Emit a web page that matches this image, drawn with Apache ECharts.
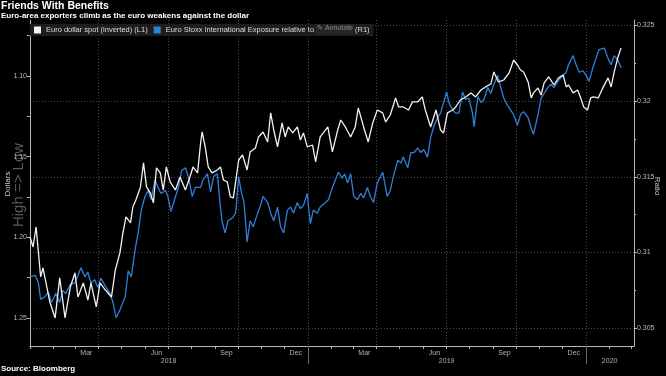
<!DOCTYPE html>
<html>
<head>
<meta charset="utf-8">
<script src="https://cdn.jsdelivr.net/npm/echarts@6/dist/echarts.min.js"></script>
<style>
  html, body { margin: 0; padding: 0; background: #000; }
  #chart { width: 666px; height: 376px; }
</style>
</head>
<body>
<div id="chart"></div>
<script>
// Euro dollar spot, plotted on an inverted left axis
const eurUsd = [
  ['2018-01-01', 1.1998], ['2018-01-05', 1.2060], ['2018-01-09', 1.1936], ['2018-01-15', 1.2246],
  ['2018-01-18', 1.2190], ['2018-01-22', 1.2283], ['2018-01-27', 1.2401], ['2018-02-03', 1.2500],
  ['2018-02-09', 1.2252], ['2018-02-16', 1.2500], ['2018-02-23', 1.2308], ['2018-03-01', 1.2221],
  ['2018-03-05', 1.2370], ['2018-03-12', 1.2283], ['2018-03-18', 1.2389], ['2018-03-22', 1.2283],
  ['2018-03-29', 1.2432], ['2018-04-03', 1.2283], ['2018-04-10', 1.2327], ['2018-04-18', 1.2370],
  ['2018-04-23', 1.2203], ['2018-04-29', 1.2097], ['2018-05-03', 1.1973], ['2018-05-07', 1.1874],
  ['2018-05-13', 1.1911], ['2018-05-16', 1.1812], ['2018-05-20', 1.1769], ['2018-05-26', 1.1688],
  ['2018-05-30', 1.1539], ['2018-06-03', 1.1688], ['2018-06-08', 1.1725], ['2018-06-12', 1.1787],
  ['2018-06-16', 1.1570], ['2018-06-21', 1.1601], ['2018-06-25', 1.1707], ['2018-06-29', 1.1564],
  ['2018-07-04', 1.1657], ['2018-07-11', 1.1707], ['2018-07-17', 1.1626], ['2018-07-24', 1.1707],
  ['2018-07-30', 1.1626], ['2018-08-03', 1.1564], ['2018-08-09', 1.1601], ['2018-08-13', 1.1415],
  ['2018-08-15', 1.1347], ['2018-08-19', 1.1440], ['2018-08-23', 1.1564], ['2018-08-28', 1.1601],
  ['2018-09-04', 1.1583], ['2018-09-08', 1.1564], ['2018-09-12', 1.1645], ['2018-09-17', 1.1657],
  ['2018-09-21', 1.1750], ['2018-09-25', 1.1756], ['2018-10-02', 1.1521], ['2018-10-07', 1.1490],
  ['2018-10-13', 1.1583], ['2018-10-17', 1.1471], ['2018-10-24', 1.1446], ['2018-10-28', 1.1378],
  ['2018-11-03', 1.1347], ['2018-11-09', 1.1409], ['2018-11-13', 1.1229], ['2018-11-17', 1.1335],
  ['2018-11-22', 1.1440], ['2018-11-28', 1.1291], ['2018-12-02', 1.1378], ['2018-12-06', 1.1316],
  ['2018-12-12', 1.1353], ['2018-12-18', 1.1316], ['2018-12-22', 1.1397], ['2018-12-26', 1.1353],
  ['2018-12-31', 1.1440], ['2019-01-07', 1.1428], ['2019-01-11', 1.1533], ['2019-01-17', 1.1378],
  ['2019-01-27', 1.1316], ['2019-02-02', 1.1471], ['2019-02-09', 1.1335], ['2019-02-13', 1.1273],
  ['2019-02-19', 1.1316], ['2019-02-26', 1.1378], ['2019-03-04', 1.1316], ['2019-03-08', 1.1198],
  ['2019-03-15', 1.1316], ['2019-03-21', 1.1409], ['2019-03-27', 1.1291], ['2019-04-02', 1.1211],
  ['2019-04-09', 1.1229], ['2019-04-13', 1.1285], ['2019-04-19', 1.1242], ['2019-04-26', 1.1136],
  ['2019-04-30', 1.1192], ['2019-05-06', 1.1192], ['2019-05-13', 1.1211], ['2019-05-18', 1.1161],
  ['2019-05-25', 1.1161], ['2019-05-31', 1.1130], ['2019-06-04', 1.1211], ['2019-06-11', 1.1316],
  ['2019-06-18', 1.1211], ['2019-06-24', 1.1335], ['2019-06-28', 1.1353], ['2019-07-03', 1.1229],
  ['2019-07-10', 1.1211], ['2019-07-14', 1.1192], ['2019-07-20', 1.1149], ['2019-07-27', 1.1130],
  ['2019-08-03', 1.1105], ['2019-08-09', 1.1130], ['2019-08-16', 1.1087], ['2019-08-22', 1.1068],
  ['2019-08-29', 1.1050], ['2019-09-02', 1.0975], ['2019-09-08', 1.1037], ['2019-09-15', 1.1025],
  ['2019-09-22', 1.0981], ['2019-09-28', 1.0901], ['2019-10-03', 1.0932], ['2019-10-07', 1.0963],
  ['2019-10-11', 1.0975], ['2019-10-17', 1.1037], ['2019-10-21', 1.1136], ['2019-10-24', 1.1105],
  ['2019-10-30', 1.1074], ['2019-11-03', 1.1118], ['2019-11-07', 1.1043], ['2019-11-13', 1.1006],
  ['2019-11-20', 1.1056], ['2019-11-26', 1.1012], ['2019-12-02', 1.0994], ['2019-12-06', 1.1068],
  ['2019-12-09', 1.1056], ['2019-12-15', 1.1105], ['2019-12-21', 1.1087], ['2019-12-25', 1.1136],
  ['2019-12-29', 1.1192], ['2020-01-03', 1.1211], ['2020-01-07', 1.1136], ['2020-01-11', 1.1130],
  ['2020-01-17', 1.1136], ['2020-01-23', 1.1074], ['2020-01-30', 1.1012], ['2020-02-03', 1.1068],
  ['2020-02-07', 1.0975], ['2020-02-12', 1.0882], ['2020-02-16', 1.0826]
];

// Euro Stoxx international exposure relative to Euro Stoxx, right axis
const stoxxRatio = [
  ['2018-01-01', 0.3084], ['2018-01-08', 0.3085], ['2018-01-12', 0.3080], ['2018-01-15', 0.3069],
  ['2018-01-21', 0.3071], ['2018-01-25', 0.3074], ['2018-01-29', 0.3067], ['2018-02-04', 0.3073],
  ['2018-02-09', 0.3067], ['2018-02-13', 0.3075], ['2018-02-17', 0.3073], ['2018-02-23', 0.3079],
  ['2018-03-01', 0.3080], ['2018-03-05', 0.3085], ['2018-03-09', 0.3090], ['2018-03-14', 0.3084],
  ['2018-03-18', 0.3087], ['2018-03-22', 0.3080], ['2018-03-27', 0.3082], ['2018-03-31', 0.3077],
  ['2018-04-04', 0.3083], ['2018-04-11', 0.3077], ['2018-04-16', 0.3073], ['2018-04-20', 0.3067],
  ['2018-04-24', 0.3057], ['2018-04-29', 0.3062], ['2018-05-06', 0.3071], ['2018-05-10', 0.3088],
  ['2018-05-14', 0.3084], ['2018-05-19', 0.3102], ['2018-05-23', 0.3113], ['2018-05-27', 0.3128],
  ['2018-06-01', 0.3137], ['2018-06-05', 0.3141], ['2018-06-09', 0.3135], ['2018-06-14', 0.3148],
  ['2018-06-18', 0.3143], ['2018-06-22', 0.3139], ['2018-06-28', 0.3141], ['2018-07-01', 0.3137],
  ['2018-07-05', 0.3127], ['2018-07-11', 0.3137], ['2018-07-15', 0.3143], ['2018-07-19', 0.3154],
  ['2018-07-24', 0.3156], ['2018-07-28', 0.3150], ['2018-08-02', 0.3137], ['2018-08-06', 0.3143],
  ['2018-08-13', 0.3143], ['2018-08-16', 0.3148], ['2018-08-22', 0.3152], ['2018-08-26', 0.3140],
  ['2018-08-30', 0.3150], ['2018-09-04', 0.3152], ['2018-09-07', 0.3135], ['2018-09-10', 0.3121],
  ['2018-09-14', 0.3113], ['2018-09-18', 0.3121], ['2018-09-24', 0.3123], ['2018-09-28', 0.3126],
  ['2018-10-02', 0.3150], ['2018-10-05', 0.3141], ['2018-10-09', 0.3133], ['2018-10-13', 0.3107],
  ['2018-10-17', 0.3121], ['2018-10-21', 0.3117], ['2018-10-27', 0.3126], ['2018-10-30', 0.3130],
  ['2018-11-03', 0.3137], ['2018-11-09', 0.3133], ['2018-11-13', 0.3126], ['2018-11-17', 0.3121],
  ['2018-11-22', 0.3130], ['2018-11-26', 0.3117], ['2018-11-30', 0.3113], ['2018-12-05', 0.3128],
  ['2018-12-09', 0.3130], ['2018-12-13', 0.3126], ['2018-12-18', 0.3133], ['2018-12-22', 0.3129],
  ['2018-12-26', 0.3131], ['2018-12-31', 0.3139], ['2019-01-04', 0.3119], ['2019-01-08', 0.3128],
  ['2019-01-13', 0.3126], ['2019-01-17', 0.3130], ['2019-01-24', 0.3133], ['2019-01-28', 0.3135],
  ['2019-02-02', 0.3143], ['2019-02-06', 0.3148], ['2019-02-10', 0.3153], ['2019-02-15', 0.3149],
  ['2019-02-18', 0.3152], ['2019-02-22', 0.3146], ['2019-02-26', 0.3152], ['2019-03-02', 0.3137],
  ['2019-03-07', 0.3135], ['2019-03-11', 0.3139], ['2019-03-15', 0.3136], ['2019-03-20', 0.3143],
  ['2019-03-24', 0.3137], ['2019-03-28', 0.3133], ['2019-04-02', 0.3146], ['2019-04-09', 0.3153],
  ['2019-04-15', 0.3137], ['2019-04-19', 0.3141], ['2019-04-23', 0.3150], ['2019-04-29', 0.3161],
  ['2019-05-03', 0.3159], ['2019-05-06', 0.3163], ['2019-05-12', 0.3156], ['2019-05-16', 0.3166],
  ['2019-05-20', 0.3166], ['2019-05-25', 0.3169], ['2019-05-29', 0.3166], ['2019-06-02', 0.3168],
  ['2019-06-07', 0.3163], ['2019-06-11', 0.3176], ['2019-06-15', 0.3183], ['2019-06-20', 0.3189],
  ['2019-06-24', 0.3192], ['2019-06-28', 0.3199], ['2019-07-02', 0.3206], ['2019-07-05', 0.3199],
  ['2019-07-10', 0.3194], ['2019-07-14', 0.3192], ['2019-07-18', 0.3192], ['2019-07-23', 0.3206],
  ['2019-07-27', 0.3201], ['2019-07-31', 0.3202], ['2019-08-05', 0.3192], ['2019-08-07', 0.3183],
  ['2019-08-12', 0.3203], ['2019-08-16', 0.3199], ['2019-08-20', 0.3201], ['2019-08-25', 0.3209],
  ['2019-08-29', 0.3205], ['2019-09-02', 0.3211], ['2019-09-07', 0.3217], ['2019-09-11', 0.3209],
  ['2019-09-15', 0.3202], ['2019-09-20', 0.3197], ['2019-09-24', 0.3194], ['2019-09-28', 0.3191],
  ['2019-10-03', 0.3184], ['2019-10-07', 0.3191], ['2019-10-11', 0.3193], ['2019-10-17', 0.3189],
  ['2019-10-21', 0.3182], ['2019-10-24', 0.3178], ['2019-10-30', 0.3191], ['2019-11-03', 0.3202],
  ['2019-11-07', 0.3205], ['2019-11-12', 0.3209], ['2019-11-16', 0.3211], ['2019-11-20', 0.3209],
  ['2019-11-25', 0.3213], ['2019-12-02', 0.3217], ['2019-12-06', 0.3219], ['2019-12-09', 0.3224],
  ['2019-12-15', 0.3230], ['2019-12-19', 0.3224], ['2019-12-23', 0.3219], ['2019-12-28', 0.3220],
  ['2020-01-01', 0.3217], ['2020-01-05', 0.3213], ['2020-01-10', 0.3222], ['2020-01-14', 0.3228],
  ['2020-01-18', 0.3234], ['2020-01-25', 0.3235], ['2020-01-30', 0.3228], ['2020-02-03', 0.3224],
  ['2020-02-07', 0.3230], ['2020-02-12', 0.3227], ['2020-02-16', 0.3222]
];

const seriesNames = [
  'Euro dollar spot (inverted) (L1)',
  'Euro Stoxx International Exposure relative to Euro Stoxx (R1)'
];

// axis labels
const leftTicks = [1.10, 1.15, 1.20, 1.25];
const leftMinorTicks = [1.075, 1.125, 1.175, 1.225];
const rightTicks = [0.305, 0.31, 0.315, 0.32, 0.325];
const rightMinorTicks = [0.3075, 0.3125, 0.3175, 0.3225];
const monthLabels = [
  ['2018-03-16', 'Mar'], ['2018-06-16', 'Jun'], ['2018-09-16', 'Sep'], ['2018-12-16', 'Dec'],
  ['2019-03-16', 'Mar'], ['2019-06-16', 'Jun'], ['2019-09-16', 'Sep'], ['2019-12-16', 'Dec']
];
const yearLabels = [['2018-07-02', '2018'], ['2019-07-02', '2019'], ['2020-02-01', '2020']];
const yearBreaks = ['2019-01-01', '2020-01-01'];

const toTime = s => {
  const p = s.split('-').map(Number);
  return Date.UTC(p[0], p[1] - 1, p[2]);
};

// month boundaries for ticks, quarter boundaries for grid lines
const monthTicks = [];
const quarterTicks = [];
for (let y = 2018; y <= 2020; y++) {
  for (let m = 0; m < 12; m++) {
    if (y === 2020 && m > 2) break;
    const t = Date.UTC(y, m, 1);
    monthTicks.push(t);
    if (m % 3 === 0 && !(y === 2018 && m === 0)) quarterTicks.push(t);
  }
}

const monthLabelMap = {};
monthLabels.forEach(d => { monthLabelMap[toTime(d[0])] = d[1]; });
const yearLabelMap = {};
yearLabels.forEach(d => { yearLabelMap[toTime(d[0])] = d[1]; });

const xMin = toTime('2018-01-01');
const xMax = toTime('2020-03-04');
const axisColor = '#b8b8b8';
const gridColor = '#4a4a4a';
const narrow = '"Liberation Sans Narrow", "Liberation Sans", sans-serif';

const chart = echarts.init(document.getElementById('chart'));

const baseX = { type: 'value', min: xMin, max: xMax, position: 'bottom', scale: true };

const option = {
  backgroundColor: '#000',
  animation: false,
  grid: { left: 30, right: 32, top: 20, bottom: 30, containLabel: false, outerBoundsMode: 'none' },
  legend: {
    left: 30,
    top: 24,
    icon: 'rect',
    itemWidth: 7,
    itemHeight: 7,
    itemGap: 6,
    padding: [2, 4, 2, 4],
    backgroundColor: '#1d1d1d',
    textStyle: { color: '#dcdcdc', fontSize: 7.5, fontFamily: narrow },
    data: seriesNames
  },
  xAxis: [
    Object.assign({}, baseX, {
      axisLine: { show: true, lineStyle: { color: axisColor, width: 1 } },
      axisTick: { show: true, customValues: monthTicks, length: 3, lineStyle: { color: axisColor } },
      axisLabel: {
        customValues: monthLabels.map(d => toTime(d[0])),
        formatter: v => monthLabelMap[v] || '',
        color: '#b0b0b0',
        fontSize: 7,
        fontFamily: narrow,
        margin: 4
      },
      splitLine: { show: false }
    }),
    Object.assign({}, baseX, {
      axisLine: { show: false },
      axisTick: { show: false, customValues: quarterTicks },
      axisLabel: { show: false },
      splitLine: { show: true, lineStyle: { color: gridColor, type: [1, 2] } }
    }),
    Object.assign({}, baseX, {
      axisLine: { show: false },
      axisTick: {
        show: true,
        customValues: yearBreaks.map(toTime),
        length: 18,
        lineStyle: { color: '#666' }
      },
      axisLabel: {
        customValues: yearLabels.map(d => toTime(d[0])),
        formatter: v => yearLabelMap[v] || '',
        color: '#b0b0b0',
        fontSize: 7,
        fontFamily: narrow,
        margin: 12
      },
      splitLine: { show: false }
    })
  ],
  yAxis: [
    {
      type: 'value',
      position: 'left',
      inverse: true,
      min: 1.0653,
      max: 1.2674,
      axisLine: { show: true, lineStyle: { color: axisColor } },
      axisTick: {
        show: true,
        customValues: leftTicks.concat(leftMinorTicks),
        length: 3,
        lineStyle: { color: axisColor }
      },
      axisLabel: {
        customValues: leftTicks,
        formatter: v => v.toFixed(2),
        color: '#b8b8b8',
        fontSize: 7,
        fontFamily: narrow,
        margin: 3
      },
      splitLine: { show: false }
    },
    {
      type: 'value',
      position: 'right',
      min: 0.30383,
      max: 0.32535,
      axisLine: { show: true, lineStyle: { color: axisColor } },
      axisTick: { show: true, customValues: rightTicks, length: 3, lineStyle: { color: axisColor } },
      axisLabel: {
        customValues: rightTicks,
        formatter: v => String(parseFloat(v.toFixed(3))),
        color: '#b8b8b8',
        fontSize: 7,
        fontFamily: narrow,
        margin: 3
      },
      splitLine: { show: true, lineStyle: { color: gridColor, type: [1, 2] } }
    },
    {
      type: 'value',
      position: 'right',
      min: 0.30383,
      max: 0.32535,
      axisLine: { show: false },
      axisTick: { show: true, customValues: rightMinorTicks, length: 2, lineStyle: { color: axisColor } },
      axisLabel: { show: false },
      splitLine: { show: false }
    }
  ],
  series: [
    {
      name: seriesNames[1],
      type: 'line',
      yAxisIndex: 1,
      showSymbol: false,
      color: '#2f80d8',
      lineStyle: { width: 1.3 },
      data: stoxxRatio.map(d => [toTime(d[0]), d[1]])
    },
    {
      name: seriesNames[0],
      type: 'line',
      yAxisIndex: 0,
      showSymbol: false,
      color: '#f2f2f2',
      lineStyle: { width: 1.3 },
      data: eurUsd.map(d => [toTime(d[0]), d[1]])
    }
  ],
  graphic: [
    {
      type: 'text', left: 1, top: 1,
      style: { text: 'Friends With Benefits', fill: '#fff', font: 'bold 10.5px "Liberation Sans", sans-serif' }
    },
    {
      type: 'text', left: 1, top: 12,
      style: {
        text: 'Euro-area exporters climb as the euro weakens against the dollar',
        fill: '#fff', font: 'bold 8px "Liberation Sans", sans-serif'
      }
    },
    {
      type: 'text', left: 1, top: 365,
      style: { text: 'Source: Bloomberg', fill: '#fff', font: 'bold 8px "Liberation Sans", sans-serif' }
    },
    {
      type: 'text', x: 8, y: 184, rotation: Math.PI / 2,
      style: {
        text: 'Dollars', fill: '#c8c8c8', align: 'center', verticalAlign: 'middle',
        font: '8px "Liberation Sans Narrow", sans-serif'
      }
    },
    {
      type: 'text', x: 657, y: 186, rotation: -Math.PI / 2,
      style: {
        text: 'Ratio', fill: '#c8c8c8', align: 'center', verticalAlign: 'middle',
        font: '8px "Liberation Sans Narrow", sans-serif'
      }
    },
    {
      type: 'text', x: 19, y: 185, rotation: Math.PI / 2,
      style: {
        text: 'High => Low', fill: '#5a5a5a', align: 'center', verticalAlign: 'middle',
        font: '15px "Liberation Sans", sans-serif'
      }
    },
    {
      type: 'rect', shape: { x: 315, y: 24, width: 38, height: 10 },
      style: { fill: '#262626' }, z: 100
    },
    {
      type: 'text', x: 317, y: 25, z: 101,
      style: { text: '✎ Annotate', fill: '#8a8a8a', font: '7px "Liberation Sans Narrow", sans-serif' }
    }
  ]
};

chart.setOption(option);
</script>
</body>
</html>
